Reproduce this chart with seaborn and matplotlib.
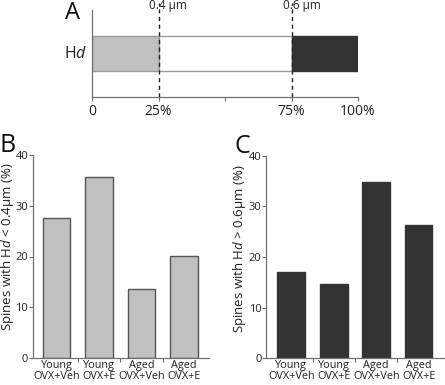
import matplotlib
matplotlib.use('Agg')
import matplotlib.pyplot as plt
import numpy as np
import pandas as pd
import seaborn as sns

groups = ['Young\nOVX+Veh', 'Young\nOVX+E', 'Aged\nOVX+Veh', 'Aged\nOVX+E']
pct_thin = [27.6, 35.6, 13.5, 20.1]    # Hd < 0.4 um
pct_thick = [17.1, 14.7, 34.9, 26.4]   # Hd > 0.6 um

hd_segments = [25, 50, 25]
hd_colors = ['#c0c0c0', '#ffffff', '#333333']
hd_ticks = [0, 25, 50, 75, 100]
hd_ticklabels = ['0', '25%', '', '75%', '100%']
cut_labels = ['0.4 µm', '0.6 µm']

sns.set_style('white')
plt.rcParams['font.family'] = ['Open Sans', 'DejaVu Sans']
plt.rcParams['mathtext.fontset'] = 'custom'
plt.rcParams['mathtext.rm'] = 'Open Sans'
plt.rcParams['mathtext.it'] = 'Open Sans:italic'

W, H = 445, 385
fig = plt.figure(figsize=(W / 100, H / 100), dpi=100)


def px_axes(left, top, right, bottom):
    return fig.add_axes([left / W, 1 - bottom / H, (right - left) / W, (bottom - top) / H])


spine_col = '#707070'
text_col = '#222222'

# ---- panel A
axA = px_axes(92, 10, 358, 97)
lefts = np.cumsum([0] + hd_segments[:-1])
axA.barh(0, hd_segments, left=lefts, height=0.8, color=hd_colors,
         edgecolor=['#999999', '#999999', '#333333'], linewidth=1)
axA.set_xlim(0, 100)
axA.set_ylim(-1, 1)
for xc, lab, xt in zip([25, 75], cut_labels, [28.6, 78.8]):
    axA.axvline(xc, ymin=0, ymax=1.08, color='#222222', ls=(0, (3, 2.5)), lw=1, clip_on=False)
    axA.text(xt, 1.03, lab, ha='center', va='baseline', fontsize=8.5, color=text_col)
axA.text(-1.9, 0, 'H$\\mathit{d}$', ha='right', va='center', fontsize=11.5, color=text_col)
axA.set_xticks(hd_ticks)
axA.set_xticklabels(hd_ticklabels, fontsize=10, color=text_col)
axA.set_yticks([])
axA.tick_params(axis='x', direction='out', length=3, width=0.8, color=spine_col, pad=2,
                bottom=True)
for s in ['top', 'right']:
    axA.spines[s].set_visible(False)
for s in ['left', 'bottom']:
    axA.spines[s].set_color(spine_col)
    axA.spines[s].set_linewidth(0.9)


def bar_panel(ax, values, color, edge, xlim, ylabel, lx, ly):
    df = pd.DataFrame({'group': groups, 'pct': values})
    sns.barplot(data=df, x='group', y='pct', color=color, width=0.65,
                edgecolor=edge, linewidth=1, saturation=1, ax=ax)
    ax.set_xlim(*xlim)
    ax.set_ylim(0, 40)
    ax.set_yticks([0, 10, 20, 30, 40])
    ax.set_xticks([0.5, 1.5, 2.5], minor=True)
    ax.tick_params(axis='y', direction='out', length=3, width=0.8, color=spine_col,
                   labelsize=8, labelcolor=text_col, pad=0.5, left=True)
    ax.tick_params(axis='x', which='major', length=0, labelsize=7.8, labelcolor=text_col, pad=1.5)
    ax.tick_params(axis='x', which='minor', direction='out', length=3, width=0.8,
                   color=spine_col, bottom=True)
    for t in ax.get_xticklabels():
        t.set_linespacing(1.0)
    ax.set_xlabel('')
    ax.set_ylabel(ylabel, fontsize=9.5, color=text_col)
    ax.yaxis.set_label_coords(lx, ly)
    for s in ['top', 'right']:
        ax.spines[s].set_visible(False)
    for s in ['left', 'bottom']:
        ax.spines[s].set_color(spine_col)
        ax.spines[s].set_linewidth(0.9)


axB = px_axes(33, 155, 209, 358)
bar_panel(axB, pct_thin, '#c0c0c0', '#555555', (-0.553, 3.59),
          'Spines with H$\\mathit{d}$ < 0.4µm (%)', -0.097, 0.547)

axC = px_axes(266.3, 155.7, 445, 358.3)
bar_panel(axC, pct_thick, '#333333', '#333333', (-0.588, 3.62),
          'Spines with H$\\mathit{d}$ > 0.6µm (%)', -0.1, 0.54)

fig.text(65 / W, 1 - 19 / H, 'A', fontsize=17, color='#111111', va='baseline')
fig.text(-1 / W, 1 - 152 / H, 'B', fontsize=18, color='#111111', va='baseline')
fig.text(234 / W, 1 - 153 / H, 'C', fontsize=18, color='#111111', va='baseline')

fig.savefig('out.png', dpi=100)
